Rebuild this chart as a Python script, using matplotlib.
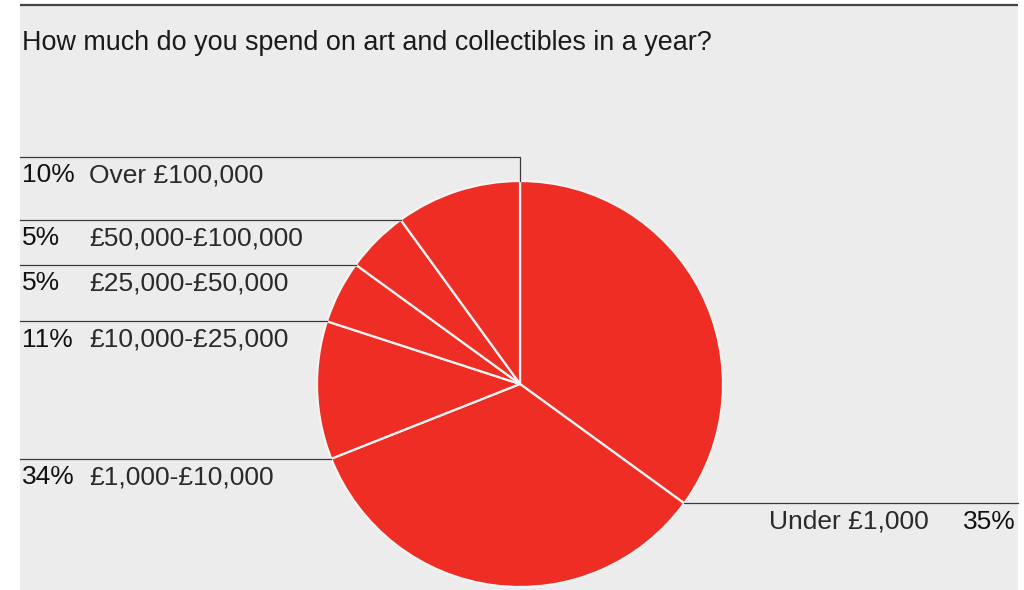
import numpy as np
import matplotlib
matplotlib.use("Agg")
import matplotlib.pyplot as plt
from matplotlib.patches import Rectangle

plt.rcParams['font.family'] = ['Liberation Sans', 'DejaVu Sans']

title = "How much do you spend on art and collectibles in a year?"
categories = ["Under £1,000", "£1,000-£10,000", "£10,000-£25,000",
              "£25,000-£50,000", "£50,000-£100,000", "Over £100,000"]
shares = [35, 34, 11, 5, 5, 10]

W, H = 1024, 590
RED = "#ee2e24"
PANEL = "#ececec"
LINE = "#3a3a3a"

fig = plt.figure(figsize=(W / 100, H / 100), dpi=100)
fig.patch.set_facecolor("white")
ax = fig.add_axes([0, 0, 1, 1])

# pixel-like coordinate system, y measured upward
left, right, top = 20, 1018, H - 5
cx, cy, r = 520, H - 384, 203

ax.add_patch(Rectangle((left, 0), right - left, top, facecolor=PANEL,
                       edgecolor="none", zorder=0))
ax.plot([left, right], [top, top], color="#444444", lw=1.6, zorder=1,
        solid_capstyle="butt")

ax.pie(shares, startangle=90, counterclock=False, center=(cx, cy), radius=r,
       colors=[RED] * len(shares),
       wedgeprops=dict(edgecolor="#f4f4f4", linewidth=1.6))

ax.set_xlim(0, W)
ax.set_ylim(0, H)
ax.set_aspect("equal")
ax.axis("off")

ax.text(22, H - 50, title, fontsize=19.35, color="#1a1a1a", va="baseline",
        ha="left")

# leader lines run from each slice's closing edge to the panel side
total = float(sum(shares))
cum = np.cumsum(shares) / total
fs = 19
off = 25.5
for i, (cat, val) in enumerate(zip(categories, shares)):
    ang = np.deg2rad(90 - 360 * cum[i])
    px = cx + r * np.cos(ang)
    py = cy + r * np.sin(ang)
    if i == 0:
        ax.plot([px, right], [py, py], color=LINE, lw=0.9, zorder=3)
        ax.text(929, py - off, cat, fontsize=fs, color="#2a2a2a",
                ha="right", va="baseline")
        ax.text(1016, py - off, f"{val}%", fontsize=fs, color="#111111",
                ha="right", va="baseline")
    else:
        ly = py
        if abs(cum[i] - 1.0) < 1e-9:
            ly = H - 157
            ax.plot([left, px, px], [ly, ly, py], color=LINE, lw=0.9,
                    zorder=3)
        else:
            ax.plot([left, px], [ly, ly], color=LINE, lw=0.9, zorder=3)
        ax.text(22, ly - off, f"{val}%", fontsize=fs, color="#111111",
                ha="left", va="baseline")
        ax.text(89, ly - off, cat, fontsize=fs, color="#2a2a2a",
                ha="left", va="baseline")

fig.savefig("out.png", dpi=100, facecolor="white")
